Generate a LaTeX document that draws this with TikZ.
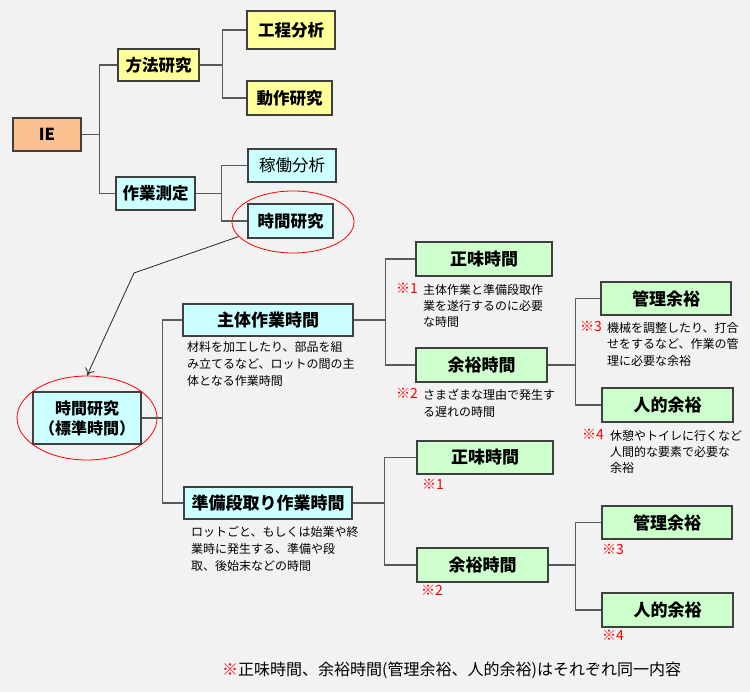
\documentclass[tikz,border=0pt]{standalone}
\usepackage{fontspec}
\setmainfont{Noto Sans CJK JP}
\usetikzlibrary{shapes.geometric,arrows.meta}
\definecolor{bg}{HTML}{F2F2F2}
\definecolor{ieorange}{HTML}{FAC090}
\definecolor{yelbox}{HTML}{FFFF99}
\definecolor{cynbox}{HTML}{CCFFFF}
\definecolor{grnbox}{HTML}{CCFFCC}
\begin{document}
\begin{tikzpicture}[x=1pt, y=-1pt,
	box/.style={draw=black!75, line width=1.2pt, inner sep=0pt, font=\fontsize{16.5}{18}\selectfont\bfseries},
	yel/.style={box, fill=yelbox}, cyn/.style={box, fill=cynbox}, grn/.style={box, fill=grnbox, font=\fontsize{17}{18}\selectfont\bfseries},
	conn/.style={draw=black!65, line width=1.4pt},
	note/.style={align=left, anchor=north west, inner sep=0pt, font=\fontsize{12}{17}\selectfont},
	refmark/.style={text=red, inner sep=0pt, anchor=north west, font=\fontsize{14}{17}\selectfont},
	ring/.style={ellipse, draw=red, line width=0.8pt, inner sep=0pt}]
	\useasboundingbox[fill=bg] (0,0) rectangle (750,692);

	% upper tree
	\node[box, fill=ieorange, minimum width=68pt, minimum height=33pt] (ie) at (47,134.5) {IE};
	\node[yel, minimum width=81pt, minimum height=32pt] (hoho) at (158.5,65) {方法研究};
	\node[yel, minimum width=88pt, minimum height=38pt] (kotei) at (291,30) {工程分析};
	\node[yel, minimum width=85pt, minimum height=34pt] (dosa) at (289.5,98) {動作研究};
	\node[cyn, minimum width=79pt, minimum height=33pt] (sokutei) at (155.5,193.5) {作業測定};
	\node[cyn, minimum width=88pt, minimum height=33pt, font=\fontsize{16.5}{18}\selectfont] (kado) at (292,165.5) {稼働分析};
	\node[cyn, minimum width=85pt, minimum height=34pt] (jikan) at (290.5,221) {時間研究};
	\node[ring, minimum width=122pt, minimum height=62pt] (ringa) at (293,222) {};

	\draw[conn] (ie.east) -- ++(18,0) coordinate (ja) |- (hoho.west); \draw[conn] (ja) |- (sokutei.west);
	\draw[conn] (hoho.east) -- ++(23,0) coordinate (jb) |- (kotei.west); \draw[conn] (jb) |- (dosa.west);
	\draw[conn] (sokutei.east) -- ++(26,0) coordinate (jc) |- (kado.west); \draw[conn] (jc) |- (jikan.west);

	% lower tree
	\node[cyn, minimum width=108pt, minimum height=52pt, align=center, font=\fontsize{16}{20}\selectfont\bfseries] (std) at (87,418) {時間研究\\（標準時間）};
	\node[ring, minimum width=140pt, minimum height=84pt] (ringb) at (87,418) {};
	\coordinate (bend) at (134,273);
	\draw[black!85, line width=0.8pt, -{To[length=7pt, width=10pt]}] (ringa.195) -- (bend) -- (ringb.north);

	\node[cyn, minimum width=170pt, minimum height=32pt, font=\fontsize{17}{18}\selectfont\bfseries] (shutai) at (268,320) {主体作業時間};
	\node[cyn, minimum width=168pt, minimum height=32pt, font=\fontsize{17}{18}\selectfont\bfseries] (junbi) at (268,503) {準備段取り作業時間};
	\node[grn, minimum width=136pt, minimum height=34pt] (shomia) at (484,259) {正味時間};
	\node[grn, minimum width=131pt, minimum height=34pt] (yoyua) at (481.5,365) {余裕時間};
	\node[grn, minimum width=130pt, minimum height=33pt] (kanria) at (666,298.5) {管理余裕};
	\node[grn, minimum width=131pt, minimum height=34pt] (jintekia) at (667.5,405) {人的余裕};
	\node[grn, minimum width=136pt, minimum height=33pt] (shomib) at (485,457.5) {正味時間};
	\node[grn, minimum width=131pt, minimum height=34pt] (yoyub) at (482.5,565) {余裕時間};
	\node[grn, minimum width=130pt, minimum height=33pt] (kanrib) at (667,522.5) {管理余裕};
	\node[grn, minimum width=131pt, minimum height=34pt] (jintekib) at (667.5,610) {人的余裕};

	\draw[conn] (std.east) -- ++(21,0) coordinate (jd) |- (shutai.west); \draw[conn] (jd) |- (junbi.west);
	\draw[conn] (shutai.east) -- ++(32,0) coordinate (je) |- (shomia.west); \draw[conn] (je) |- (yoyua.west);
	\draw[conn] (yoyua.east) -- ++(28,0) coordinate (jf) |- (kanria.west); \draw[conn] (jf) |- (jintekia.west);
	\draw[conn] (junbi.east) -- ++(32,0) coordinate (jg) |- (shomib.west); \draw[conn] (jg) |- (yoyub.west);
	\draw[conn] (yoyub.east) -- ++(27,0) coordinate (jh) |- (kanrib.west); \draw[conn] (jh) |- (jintekib.west);

	% notes
	\node[note] (nshutai) at (187,341) {材料を加工したり、部品を組\\み立てるなど、ロットの間の主\\体となる作業時間};
	\node[note] (njunbi) at (191,526) {ロットごと、もしくは始業や終\\業時に発生する、準備や段\\取、後始末などの時間};
	\node[refmark] (ma1) at (396,283) {※1}; \node[note, font=\fontsize{12}{16}\selectfont] (na1) at (423,284) {主体作業と準備段取作\\業を遂行するのに必要\\な時間};
	\node[refmark] (ma2) at (396,388) {※2}; \node[note] (na2) at (423,389) {さまざまな理由で発生す\\る遅れの時間};
	\node[refmark] (ma3) at (580,321) {※3}; \node[note, font=\fontsize{12}{16.5}\selectfont] (na3) at (607,322) {機械を調整したり、打合\\せをするなど、作業の管\\理に必要な余裕};
	\node[refmark] (ma4) at (582,429) {※4}; \node[note, font=\fontsize{12}{16}\selectfont] (na4) at (610,430) {休憩やトイレに行くなど\\人間的な要素で必要な\\余裕};
	\node[refmark] (mb1) at (422,479) {※1};
	\node[refmark] (mb2) at (421,585) {※2};
	\node[refmark] (mb3) at (602,544) {※3};
	\node[refmark] (mb4) at (602,630) {※4};
	\node[anchor=west, inner sep=0pt, font=\fontsize{16}{18}\selectfont] (foot) at (222,670) {\textcolor{red}{※}正味時間、余裕時間(管理余裕、人的余裕)はそれぞれ同一内容};
\end{tikzpicture}
\end{document}
